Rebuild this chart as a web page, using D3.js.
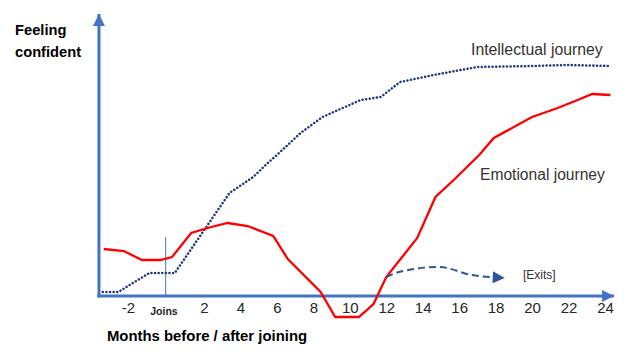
<!DOCTYPE html>
<html><head><meta charset="utf-8">
<script src="https://cdn.jsdelivr.net/npm/d3@7"></script>
<style>
body{margin:0;background:#fff;}
text{font-family:"Liberation Sans",Arial,sans-serif;}
</style></head>
<body><svg id="c" width="628" height="357"></svg>
<script>
// Emotional journey (red, solid)
const emotionalMonths = [-3.5,-2.4,-1.4,-0.4,0.25,1.3,2.4,3.3,4.4,5.8,6.6,8.4,9.2,10.5,11.3,12.0,13.7,14.7,15.7,17.1,17.9,19.2,20.0,21.4,22.5,23.3,24.3];
const emotionalValues = [18.8,18,14.4,14.4,15.6,25.2,27.6,29.2,28,24,14.8,1.6,-8.4,-8.4,-3.2,7.6,23.2,39.6,46.4,56.4,63.2,68.4,71.6,75.2,78.4,80.8,80.4];
// Intellectual journey (navy, dotted)
const intellectualMonths = [-3.55,-2.7,-1.0,0.4,3.4,4.7,5.5,6.0,7.3,8.5,10.6,11.7,12.75,14.6,17.0,20.0,21.9,24.3];
const intellectualValues = [1.6,1.6,9.2,9.2,41.2,47.6,53.2,56.4,65.2,71.6,78.4,79.6,85.6,88.4,91.6,92,92.4,92];
// Exit path (dashed)
const exitMonths = [12.0,12.7,14.9,16.7,18.5];
const exitValues = [7.6,9.6,11.6,8.4,7.2];
// Axis ticks
const tickValues = [-2,0,2,4,6,8,10,12,14,16,18,20,22,24];
const tickLabels = ["-2","Joins","2","4","6","8","10","12","14","16","18","20","22","24"];

const svg = d3.select("#c");
const x = d3.scaleLinear().domain([0,24]).range([167.5,605]);
const y = d3.scaleLinear().domain([0,100]).range([296,46]);

const axisBlue = "#4472C4";
const defs = svg.append("defs");
defs.append("marker").attr("id","ah").attr("viewBox","0 0 10 10").attr("refX",10).attr("refY",5)
  .attr("markerUnits","userSpaceOnUse").attr("markerWidth",12).attr("markerHeight",12).attr("orient","auto")
  .append("path").attr("d","M0,0L10,5L0,10Z").attr("fill",axisBlue);
defs.append("marker").attr("id","ah2").attr("viewBox","0 0 10 10").attr("refX",10).attr("refY",5)
  .attr("markerUnits","userSpaceOnUse").attr("markerWidth",13).attr("markerHeight",12).attr("orient","auto")
  .append("path").attr("d","M0,0L10,5L0,10Z").attr("fill","#2F5597");

// axes lines
const x0 = x(-3.76), y0 = y(0);
svg.append("line").attr("x1",x0).attr("y1",y0+1.5).attr("x2",x0).attr("y2",y(112.8))
  .attr("stroke",axisBlue).attr("stroke-width",3).attr("marker-end","url(#ah)");
svg.append("line").attr("x1",x0-1.5).attr("y1",y0).attr("x2",x(24.5)).attr("y2",y0)
  .attr("stroke",axisBlue).attr("stroke-width",3).attr("marker-end","url(#ah)");

// Joins line
svg.append("line").attr("x1",x(-0.1)).attr("x2",x(-0.1)).attr("y1",y(23.6)).attr("y2",y0)
  .attr("stroke",axisBlue).attr("stroke-width",1);

// tick labels via axis
const axis = d3.axisBottom(x).tickValues(tickValues).tickSize(0).tickPadding(7)
  .tickFormat((d,i)=>tickLabels[i]);
const gA = svg.append("g").attr("transform",`translate(0,${y0})`).call(axis);
gA.select(".domain").remove();
gA.selectAll("text").attr("fill","#262626")
  .style("font-family","'Liberation Sans',Arial,sans-serif")
  .style("font-size",d=>d===0?"10.5px":"15px")
  .style("font-weight",d=>d===0?"bold":"normal")
  .attr("dx",d=>d===0?"-4":d===-2?"-3":"0")
  .attr("dy",d=>d===0?"1.1em":"0.66em");

const line = d3.line().x(d=>x(d[0])).y(d=>y(d[1]));
const lineC = d3.line().x(d=>x(d[0])).y(d=>y(d[1])).curve(d3.curveMonotoneX);

svg.append("path").datum(intellectualMonths.map((m,i)=>[m,intellectualValues[i]]))
  .attr("d",line).attr("fill","none").attr("stroke","#1F3A7A").attr("stroke-width",2.5)
  .attr("stroke-dasharray","0.1 3.5").attr("stroke-linecap","round");

svg.append("path").datum(emotionalMonths.map((m,i)=>[m,emotionalValues[i]]))
  .attr("d",line).attr("fill","none").attr("stroke","#FF0000").attr("stroke-width",2.3);

svg.append("path").datum(exitMonths.map((m,i)=>[m,exitValues[i]]))
  .attr("d",lineC).attr("fill","none").attr("stroke","#2F5597").attr("stroke-width",2)
  .attr("stroke-dasharray","7 4").attr("marker-end","url(#ah2)");

// texts
const t = (s,xx,yy,opt={}) => svg.append("text").attr("x",xx).attr("y",yy).text(s)
  .attr("fill",opt.fill||"#262626").style("font-size",opt.size||"14px")
  .style("font-weight",opt.weight||"normal").attr("text-anchor",opt.anchor||"start");
t("Feeling",15,35,{weight:"bold",size:"14.7px",fill:"#000"});
t("confident",15,57,{weight:"bold",size:"14.7px",fill:"#000"});
t("Months before / after joining",207,341,{weight:"bold",size:"14.9px",anchor:"middle",fill:"#000"});
t("Intellectual journey",471,55,{size:"15.8px",fill:"#333"});
t("Emotional journey",480,180,{size:"15.6px",fill:"#333"});
t("[Exits]",523,279,{size:"12px",fill:"#333"});
</script></body></html>
